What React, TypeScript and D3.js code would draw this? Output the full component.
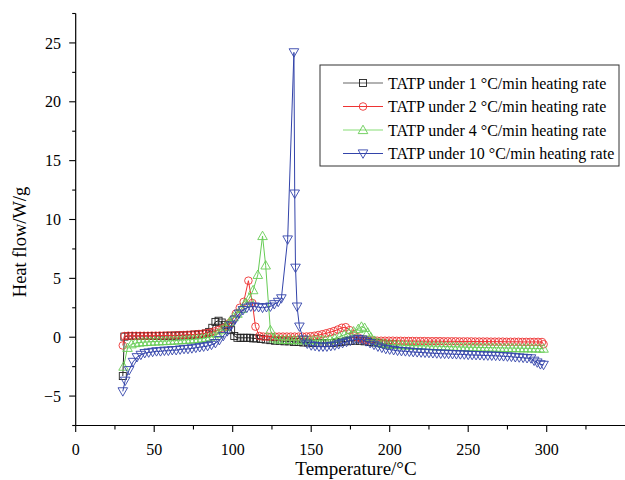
import React from "react";
import * as d3 from "d3";

// ---- data ----
const t1 = [30, 31, 33.5, 36, 38.5, 41, 43.5, 46, 48.5, 51, 53.5, 56, 58.5, 61, 63.5, 66, 68.5, 71, 73.5, 76, 78.5, 81, 83, 85, 87, 89, 91, 93, 95, 97, 99, 101, 103, 105, 107, 109, 111, 113, 115, 118, 121, 124, 127, 130, 133, 136, 139, 142, 145, 148, 151, 154, 157, 160, 163, 166, 169, 172, 175, 178, 181, 184, 187, 190, 193, 196, 199, 202];
const v1 = [-3.3, 0.05, 0.1, 0.1, 0.1, 0.1, 0.1, 0.1, 0.1, 0.1, 0.1, 0.1, 0.12, 0.12, 0.14, 0.15, 0.16, 0.18, 0.2, 0.22, 0.25, 0.28, 0.32, 0.45, 0.8, 1.3, 1.4, 1.25, 1.05, 0.9, 0.6, 0.1, -0.05, -0.05, -0.05, -0.05, -0.05, -0.1, -0.1, -0.15, -0.2, -0.25, -0.3, -0.3, -0.35, -0.35, -0.4, -0.4, -0.45, -0.45, -0.5, -0.5, -0.5, -0.5, -0.5, -0.45, -0.4, -0.35, -0.3, -0.3, -0.3, -0.35, -0.4, -0.45, -0.5, -0.55, -0.6, -0.6];

const t2 = [30, 31, 33.5, 36, 38.5, 41, 43.5, 46, 48.5, 51, 53.5, 56, 58.5, 61, 63.5, 66, 68.5, 71, 73.5, 76, 78.5, 81, 83.5, 86, 88.5, 91, 93.5, 96, 98, 100, 102, 104.5, 107, 110, 112.5, 114.5, 117, 119.5, 122, 124.5, 127, 129.5, 132, 134.5, 137, 139.5, 142, 144.5, 147, 149.5, 152, 154.5, 157, 159.5, 162, 164.5, 167, 169.5, 172, 174.5, 177, 179.5, 182, 184.5, 187, 189.5, 192, 194.5, 197, 199.5, 202, 204.5, 207, 209.5, 212, 214.5, 217, 219.5, 222, 224.5, 227, 229.5, 232, 234.5, 237, 239.5, 242, 244.5, 247, 249.5, 252, 254.5, 257, 259.5, 262, 264.5, 267, 269.5, 272, 274.5, 277, 279.5, 282, 284.5, 287, 289.5, 292, 294.5, 297, 298];
const v2 = [-0.7, 0.1, 0.12, 0.12, 0.12, 0.12, 0.12, 0.12, 0.13, 0.13, 0.14, 0.14, 0.15, 0.15, 0.16, 0.17, 0.18, 0.2, 0.22, 0.24, 0.27, 0.3, 0.35, 0.42, 0.5, 0.62, 0.75, 0.9, 1.2, 1.5, 2.0, 2.5, 3.0, 4.8, 2.9, 0.9, 0.1, 0.05, 0.05, 0.05, 0.05, 0.05, 0.05, 0.05, 0.05, 0.05, 0.05, 0.05, 0.06, 0.08, 0.12, 0.18, 0.25, 0.33, 0.42, 0.52, 0.65, 0.8, 0.85, 0.6, 0.25, 0.0, -0.15, -0.22, -0.25, -0.28, -0.3, -0.3, -0.3, -0.3, -0.3, -0.31, -0.31, -0.32, -0.32, -0.32, -0.33, -0.33, -0.33, -0.34, -0.34, -0.34, -0.34, -0.35, -0.35, -0.35, -0.35, -0.36, -0.36, -0.36, -0.36, -0.37, -0.37, -0.37, -0.37, -0.38, -0.38, -0.38, -0.38, -0.39, -0.39, -0.39, -0.39, -0.4, -0.4, -0.4, -0.4, -0.4, -0.41, -0.6];

const t3 = [30.5, 33, 35.5, 38, 40.5, 43, 45.5, 48, 50.5, 53, 55.5, 58, 60.5, 63, 65.5, 68, 70.5, 73, 75.5, 78, 80.5, 83, 85.5, 88, 90.5, 93, 95.5, 98, 100.5, 103, 105.5, 108, 110.5, 113, 116, 119, 121, 124, 126.5, 129, 131.5, 134, 136.5, 139, 141.5, 144, 146.5, 149, 151.5, 154, 156.5, 159, 162, 165, 168, 171, 174, 177, 180, 182, 184, 186, 188, 190.5, 193, 195.5, 198, 200.5, 203, 205.5, 208, 210.5, 213, 215.5, 218, 220.5, 223, 225.5, 228, 230.5, 233, 235.5, 238, 240.5, 243, 245.5, 248, 250.5, 253, 255.5, 258, 260.5, 263, 265.5, 268, 270.5, 273, 275.5, 278, 280.5, 283, 285.5, 288, 290.5, 293, 295.5, 298];
const v3 = [-2.5, -0.9, -0.6, -0.5, -0.45, -0.42, -0.4, -0.38, -0.36, -0.35, -0.33, -0.32, -0.3, -0.28, -0.26, -0.24, -0.22, -0.2, -0.17, -0.14, -0.1, -0.05, 0.0, 0.1, 0.3, 0.6, 0.9, 1.3, 1.7, 2.0, 2.4, 2.9, 3.3, 4.0, 5.3, 8.6, 6.1, 0.6, -0.1, -0.2, -0.22, -0.23, -0.24, -0.25, -0.25, -0.25, -0.25, -0.25, -0.25, -0.25, -0.24, -0.22, -0.2, -0.1, 0.05, 0.2, 0.35, 0.5, 0.7, 0.9, 0.8, 0.4, 0.0, -0.3, -0.45, -0.55, -0.6, -0.62, -0.64, -0.66, -0.68, -0.69, -0.7, -0.71, -0.72, -0.73, -0.74, -0.75, -0.76, -0.77, -0.78, -0.79, -0.8, -0.81, -0.82, -0.83, -0.84, -0.85, -0.85, -0.86, -0.87, -0.88, -0.88, -0.89, -0.9, -0.9, -0.91, -0.92, -0.92, -0.93, -0.93, -0.94, -0.94, -0.95, -0.95, -0.96, -0.97];

const t4 = [30, 31.5, 34, 36.5, 39, 41.5, 44, 46.5, 49, 51.5, 54, 56.5, 59, 61.5, 64, 66.5, 69, 71.5, 74, 76.5, 79, 81.5, 84, 86.5, 89, 91.5, 94, 96.5, 99, 101.5, 104, 106.5, 109, 111.5, 114, 116.5, 119, 121.5, 124, 126.5, 129, 131, 135, 139, 139.5, 140, 141, 142.5, 145, 147.5, 150, 152.5, 155, 157.5, 160, 162.5, 165, 167.5, 170, 172.5, 175, 177.5, 180, 182.5, 185, 187.5, 190, 192.5, 195, 197.5, 200, 202.5, 205, 207.5, 210, 212.5, 215, 217.5, 220, 222.5, 225, 227.5, 230, 232.5, 235, 237.5, 240, 242.5, 245, 247.5, 250, 252.5, 255, 257.5, 260, 262.5, 265, 267.5, 270, 272.5, 275, 277.5, 280, 282.5, 285, 287.5, 290, 292, 294, 296, 298];
const v4 = [-4.6, -3.7, -2.8, -2.1, -1.7, -1.5, -1.35, -1.3, -1.25, -1.2, -1.2, -1.15, -1.15, -1.1, -1.1, -1.05, -1.0, -1.0, -0.95, -0.9, -0.85, -0.8, -0.75, -0.65, -0.5, -0.25, 0.1, 0.5, 1.0, 1.5, 2.0, 2.3, 2.5, 2.6, 2.6, 2.55, 2.5, 2.55, 2.6, 2.8, 3.0, 3.3, 8.3, 24.2, 12.2, 5.9, 2.6, 0.9, -0.2, -0.55, -0.7, -0.75, -0.8, -0.8, -0.8, -0.75, -0.7, -0.6, -0.5, -0.4, -0.3, -0.2, -0.15, -0.2, -0.35, -0.5, -0.65, -0.8, -0.9, -1.0, -1.05, -1.1, -1.15, -1.18, -1.2, -1.23, -1.26, -1.28, -1.3, -1.32, -1.34, -1.36, -1.38, -1.4, -1.41, -1.42, -1.44, -1.45, -1.46, -1.47, -1.5, -1.51, -1.52, -1.53, -1.55, -1.56, -1.57, -1.58, -1.6, -1.62, -1.64, -1.66, -1.7, -1.72, -1.75, -1.78, -1.8, -2.0, -2.15, -2.3, -2.35, -2.2];

const seriesNames = [
  "TATP under 1 \u00b0C/min heating rate",
  "TATP under 2 \u00b0C/min heating rate",
  "TATP under 4 \u00b0C/min heating rate",
  "TATP under 10 \u00b0C/min heating rate",
];
const xTicks = [0, 50, 100, 150, 200, 250, 300];
const yTicks = [-5, 0, 5, 10, 15, 20, 25];

const COLORS = ["#222222", "#ee3333", "#66cc55", "#3344aa"];
const LEGEND_LINE = ["#666666", "#ee3333", "#88dd77", "#3344aa"];
const SHAPES = ["square", "circle", "triangle", "down"];

const FONT = "'Liberation Serif', 'Times New Roman', serif";

function Marker({ shape, x, y, color }: { shape: string; x: number; y: number; color: string }) {
  const sw = 0.9;
  if (shape === "square") {
    return <rect x={x - 3.5} y={y - 3.5} width={7} height={7} fill="none" stroke={color} strokeWidth={sw} />;
  }
  if (shape === "circle") {
    return <circle cx={x} cy={y} r={3.8} fill="none" stroke={color} strokeWidth={sw} />;
  }
  if (shape === "triangle") {
    const pts = `${x},${y - 4.8} ${x - 4.8},${y + 3.6} ${x + 4.8},${y + 3.6}`;
    return <polygon points={pts} fill="none" stroke={color} strokeWidth={sw} />;
  }
  const pts = `${x},${y + 4.8} ${x - 4.8},${y - 3.6} ${x + 4.8},${y - 3.6}`;
  return <polygon points={pts} fill="none" stroke={color} strokeWidth={sw} />;
}

export default function App() {
  const W = 625, H = 480;
  const x = d3.scaleLinear().domain([0, 350]).range([75.7, 625.2]);
  const y = d3.scaleLinear().domain([-7.5, 27.5]).range([425.5, 13.5]);

  const series = [
    { t: t1, v: v1 },
    { t: t2, v: v2 },
    { t: t3, v: v3 },
    { t: t4, v: v4 },
  ];

  const line = d3
    .line<[number, number]>()
    .x((d) => x(d[0]))
    .y((d) => y(d[1]));

  const xMinor = d3.range(0, 350, 25);
  const yMinor = d3.range(-7.5, 27.6, 2.5);

  const legendX = 320, legendY = 65, legendW = 299, legendH = 101;
  const legendRows = [83, 106.5, 130, 153.5];

  return (
    <svg
      width={W}
      height={H}
      style={{ position: "absolute", left: 0, top: 0, background: "#fff" }}
      fontFamily={FONT}
    >
      <rect x={0} y={0} width={W} height={H} fill="#fff" />
      {/* axes */}
      <line x1={x(0)} x2={x(350)} y1={y(-7.5)} y2={y(-7.5)} stroke="#000" strokeWidth={1.2} />
      <line x1={x(0)} x2={x(0)} y1={y(-7.5)} y2={y(27.5)} stroke="#000" strokeWidth={1.2} />
      {xMinor.map((t) => {
        const major = t % 50 === 0;
        return (
          <line key={"xt" + t} x1={x(t)} x2={x(t)} y1={y(-7.5)} y2={y(-7.5) + (major ? 6.5 : 4)} stroke="#000" strokeWidth={1.1} />
        );
      })}
      {yMinor.map((v) => {
        const major = Math.abs(v % 5) < 1e-6;
        return (
          <line key={"yt" + v} x1={x(0) - (major ? 6.5 : 3.5)} x2={x(0)} y1={y(v)} y2={y(v)} stroke="#000" strokeWidth={1.1} />
        );
      })}
      {xTicks.map((t) => (
        <text key={"xl" + t} x={x(t)} y={455} textAnchor="middle" fontSize={16} fill="#000">
          {t}
        </text>
      ))}
      {yTicks.map((v) => (
        <text key={"yl" + v} x={61} y={y(v)} dy="0.35em" textAnchor="end" fontSize={16} fill="#000">
          {v < 0 ? "\u2212" + Math.abs(v) : v}
        </text>
      ))}
      <text x={356} y={475} textAnchor="middle" fontSize={19} fill="#000">
        Temperature/°C
      </text>
      <text transform="translate(26,242) rotate(-90)" textAnchor="middle" fontSize={18.5} fill="#000">
        Heat flow/W/g
      </text>

      {/* series */}
      {series.map((s, i) => {
        const pts: [number, number][] = s.t.map((t, j) => [t, s.v[j]]);
        return (
          <g key={"s" + i}>
            <path d={line(pts) || ""} fill="none" stroke={COLORS[i]} strokeWidth={1} />
            {pts.map((p, j) => (
              <Marker key={j} shape={SHAPES[i]} x={x(p[0])} y={y(p[1])} color={COLORS[i]} />
            ))}
          </g>
        );
      })}

      {/* legend */}
      <rect x={legendX} y={legendY} width={legendW} height={legendH} fill="#fff" stroke="#333" strokeWidth={1} />
      {seriesNames.map((name, i) => (
        <g key={"lg" + i}>
          <line x1={343} x2={383} y1={legendRows[i]} y2={legendRows[i]} stroke={LEGEND_LINE[i]} strokeWidth={1.2} />
          <Marker shape={SHAPES[i]} x={363} y={legendRows[i]} color={COLORS[i]} />
          <text x={388} y={legendRows[i]} dy="0.35em" fontSize={16} fill="#000">
            {name}
          </text>
        </g>
      ))}
    </svg>
  );
}
